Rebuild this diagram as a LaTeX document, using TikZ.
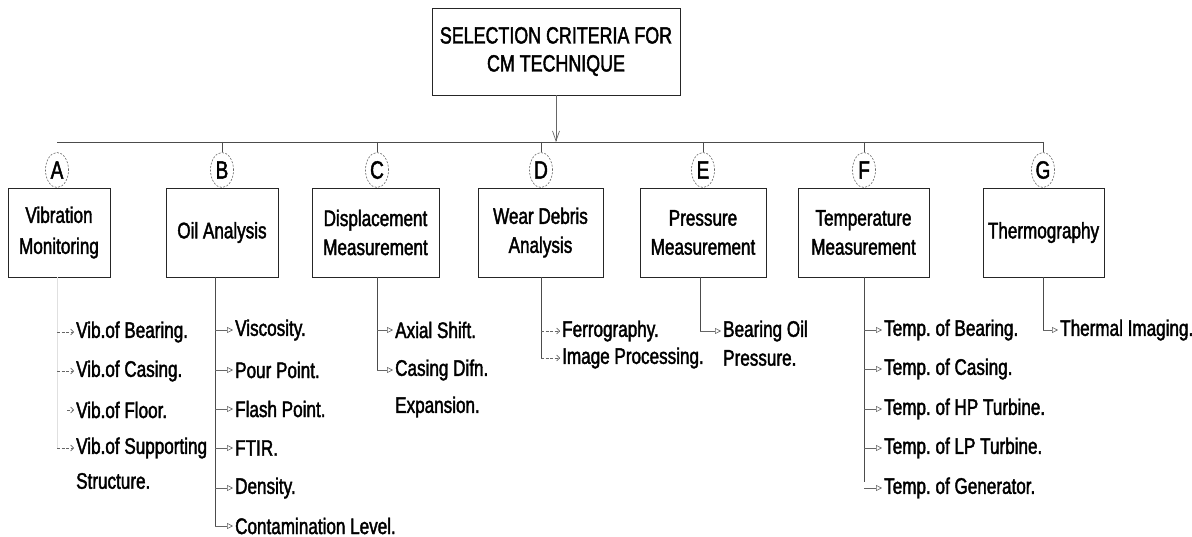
\documentclass[tikz,border=0pt]{standalone}
\usepackage{fontspec}
\setmainfont{Liberation Sans}[FakeStretch=0.76,FakeBold=1.8]
\usetikzlibrary{arrows.meta,shapes.geometric}
\begin{document}
\frenchspacing
\begin{tikzpicture}[x=1pt,y=-1pt,
  every node/.style={font=\fontsize{22.5}{28}\selectfont, inner sep=0pt},
  box/.style={draw=black!85, line width=0.8pt, align=center},
  letter/.style={draw=black!60, dashed, dash pattern=on 2pt off 1.5pt, ellipse, minimum width=23, minimum height=35, line width=0.6pt, font=\fontsize{25}{28}\selectfont},
  item/.style={anchor=west, inner xsep=2pt},
  conn/.style={draw=black!70, line width=0.7pt},
  tip/.style={draw=black!60, line width=0.6pt, -{Triangle[open,length=6pt,width=6pt]}},
  dtip/.style={draw=black!60, line width=0.6pt, dash pattern=on 3pt off 1.5pt, -{Straight Barb[length=3pt,width=6pt]}},
  mainarrow/.style={draw=black!60, line width=0.7pt, -{Straight Barb[length=10pt,width=7pt]}}
]
\useasboundingbox (0,0) rectangle (1192,537);

% title
\node[box, minimum width=248, minimum height=87, font=\fontsize{23.5}{28}\selectfont] (top) at (556,51.5)
  {SELECTION CRITERIA FOR\\[0pt]CM TECHNIQUE};
\coordinate (bus) at (556,142);
\coordinate (busL) at (57,142);
\coordinate (busR) at (1043,142);
\draw[mainarrow] (top.south) -- (bus);
\draw[conn] (busL) -- (busR);

% letters
\foreach \n/\x in {A/57,B/222,C/377,D/541,E/703,F/864,G/1043}{
  \node[letter] (L\n) at (\x,170) {\n};
}
\foreach \n in {B,C,D,E,F,G}{
  \draw[conn] (L\n.north |- bus) -- (L\n.north);
}

% category boxes
\node[box, minimum width=102, minimum height=89] (A) at (59,232.5) {Vibration\\[3pt]Monitoring};
\node[box, minimum width=112, minimum height=89] (B) at (222,232.5) {Oil Analysis};
\node[box, minimum width=127, minimum height=89] (C) at (375.5,232.5) {Displacement\\[1pt]Measurement};
\node[box, minimum width=125, minimum height=89] (D) at (540.5,232.5) {Wear Debris\\[1pt]Analysis};
\node[box, minimum width=126, minimum height=89] (E) at (703,232.5) {Pressure\\[1pt]Measurement};
\node[box, minimum width=131, minimum height=89] (F) at (863.5,232.5) {Temperature\\[1pt]Measurement};
\node[box, minimum width=121, minimum height=89] (G) at (1043.5,232.5) {Thermography};

% stem points
\coordinate (sA) at (57,277);
\coordinate (sB) at (215,277);
\coordinate (sC) at (377,277);
\coordinate (sD) at (541,277);
\coordinate (sE) at (700,277);
\coordinate (sF) at (864,277);
\coordinate (sG) at (1043,277);

% A items
\node[item] (a1) at (74,332) {Vib.of Bearing.};
\node[item] (a2) at (74,371) {Vib.of Casing.};
\node[item] (a3) at (74,410) {Vib.of Floor.};
\node[item] (a4) at (74,448) {Vib.of Supporting};
\node[item] (a4b) at (74,481) {Structure.};
\draw[draw=black!12, line width=0.6pt] (sA) -- (sA |- a4.west);
\foreach \i in {a1,a2,a4}{ \draw[dtip] (sA |- \i.west) -- (\i.west); }
\draw[dtip] ([xshift=-7]a3.west) -- (a3.west);

% B items
\node[item] (b1) at (233,330) {Viscosity.};
\node[item] (b2) at (233,370) {Pour Point.};
\node[item] (b3) at (233,409) {Flash Point.};
\node[item] (b4) at (233,448) {FTIR.};
\node[item] (b5) at (233,488) {Density.};
\node[item] (b6) at (233,526) {Contamination Level.};
\draw[conn] (sB) -- (sB |- b6.west);
\foreach \i in {b1,b2,b3,b4,b5,b6}{ \draw[tip] (sB |- \i.west) -- (\i.west); }

% C items
\node[item] (c1) at (393,330) {Axial Shift.};
\node[item] (c2) at (393,370) {Casing Difn.};
\node[item] (c2b) at (393,407) {Expansion.};
\draw[conn] (sC) -- (sC |- c2.west);
\foreach \i in {c1,c2}{ \draw[tip] (sC |- \i.west) -- (\i.west); }

% D items
\node[item] (d1) at (560,331) {Ferrography.};
\node[item] (d2) at (560,358) {Image Processing.};
\draw[conn] (sD) -- (sD |- d2.west);
\foreach \i in {d1,d2}{ \draw[dtip] (sD |- \i.west) -- (\i.west); }

% E items
\node[item] (e1) at (721,331) {Bearing Oil};
\node[item] (e1b) at (721,358) {Pressure.};
\draw[conn] (sE) -- (sE |- e1.west);
\draw[tip] (sE |- e1.west) -- (e1.west);

% F items
\node[item] (f1) at (882,330) {Temp. of Bearing.};
\node[item] (f2) at (882,369) {Temp. of Casing.};
\node[item] (f3) at (882,409) {Temp. of HP Turbine.};
\node[item] (f4) at (882,448) {Temp. of LP Turbine.};
\node[item] (f5) at (882,488) {Temp. of Generator.};
\draw[conn] (sF) -- ([yshift=6]sF |- f5.west);
\foreach \i in {f1,f2,f3,f4,f5}{ \draw[tip] (sF |- \i.west) -- (\i.west); }

% G items
\node[item] (g1) at (1058,330) {Thermal Imaging.};
\draw[conn] (sG) -- (sG |- g1.west);
\draw[tip] (sG |- g1.west) -- (g1.west);
\end{tikzpicture}
\end{document}
